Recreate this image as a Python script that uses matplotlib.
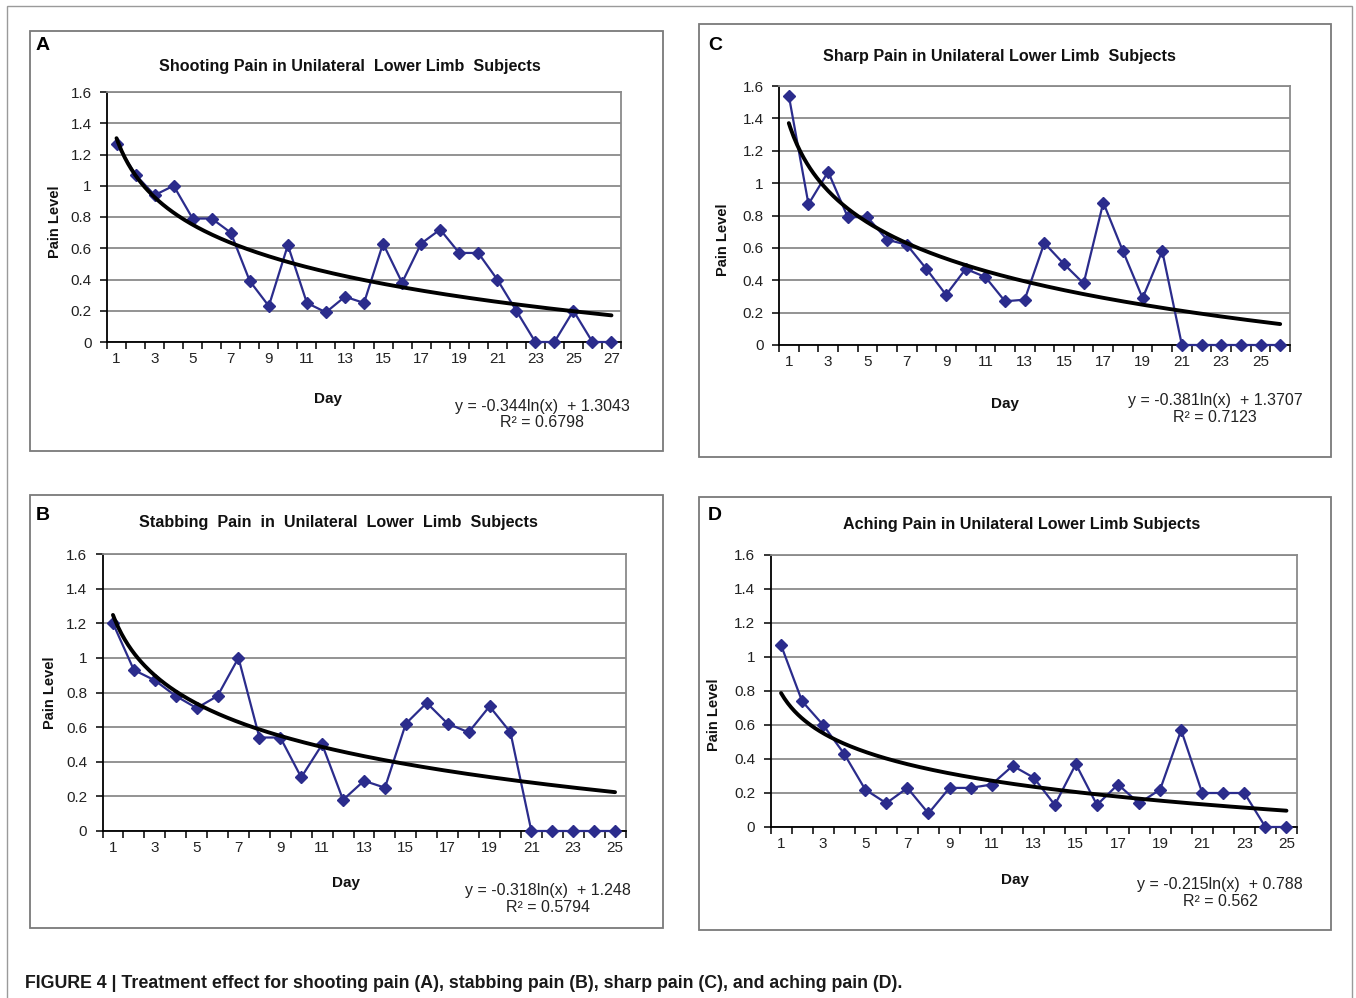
import numpy as np
import matplotlib
matplotlib.use("Agg")
import matplotlib.pyplot as plt
from matplotlib.patches import Rectangle

# ---- data ----
shooting = [1.27, 1.07, 0.94, 1.00, 0.79, 0.79, 0.70, 0.39, 0.23, 0.62, 0.25, 0.19, 0.29, 0.25,
            0.63, 0.38, 0.63, 0.72, 0.57, 0.57, 0.40, 0.20, 0.0, 0.0, 0.20, 0.0, 0.0]
sharp = [1.54, 0.87, 1.07, 0.79, 0.79, 0.65, 0.62, 0.47, 0.31, 0.47, 0.42, 0.27, 0.28, 0.63,
         0.50, 0.38, 0.88, 0.58, 0.29, 0.58, 0.0, 0.0, 0.0, 0.0, 0.0, 0.0]
stabbing = [1.20, 0.93, 0.87, 0.78, 0.71, 0.78, 1.00, 0.54, 0.54, 0.31, 0.50, 0.18, 0.29, 0.25,
            0.62, 0.74, 0.62, 0.57, 0.72, 0.57, 0.0, 0.0, 0.0, 0.0, 0.0]
aching = [1.07, 0.74, 0.60, 0.43, 0.22, 0.14, 0.23, 0.08, 0.23, 0.23, 0.25, 0.36, 0.29, 0.13,
          0.37, 0.13, 0.25, 0.14, 0.22, 0.57, 0.20, 0.20, 0.20, 0.0, 0.0]

trend_a = (-0.344, 1.3043, 0.6798)
trend_c = (-0.381, 1.3707, 0.7123)
trend_b = (-0.318, 1.248, 0.5794)
trend_d = (-0.215, 0.788, 0.562)

titles = {
    "A": "Shooting Pain in Unilateral  Lower Limb  Subjects",
    "C": "Sharp Pain in Unilateral Lower Limb  Subjects",
    "B": "Stabbing  Pain  in  Unilateral  Lower  Limb  Subjects",
    "D": "Aching Pain in Unilateral Lower Limb Subjects",
}
eq_texts = {
    "A": ("y = -0.344ln(x)  + 1.3043", "R\u00b2 = 0.6798"),
    "C": ("y = -0.381ln(x)  + 1.3707", "R\u00b2 = 0.7123"),
    "B": ("y = -0.318ln(x)  + 1.248", "R\u00b2 = 0.5794"),
    "D": ("y = -0.215ln(x)  + 0.788", "R\u00b2 = 0.562"),
}
yticks = [0, 0.2, 0.4, 0.6, 0.8, 1.0, 1.2, 1.4, 1.6]
ytick_labels = ["0", "0.2", "0.4", "0.6", "0.8", "1", "1.2", "1.4", "1.6"]

# ---- layout ----
W, H = 1356, 998
fig = plt.figure(figsize=(W / 100, H / 100), dpi=100)
plt.rcParams['font.family'] = ['Liberation Sans', 'DejaVu Sans']

def fx(x):
    return x / W

def fy(y):
    return 1 - y / H

LINE = "#2B2C8C"
GRID = "#8a8a8a"
BOX = "#7a7a7a"

panels = [
    # key, data, trend, box(px), plot area(px), title pos, letter pos, ylabel pos, day pos, eq pos
    ("A", shooting, trend_a, (30, 31, 663, 451), (107, 92, 621, 342), (350, 66), (36, 46), (55, 222), (328, 399), (542, 406)),
    ("C", sharp, trend_c, (699, 24, 1331, 457), (779, 86, 1290, 345), (999, 56), (708, 46), (723, 240), (1005, 404), (1215, 401)),
    ("B", stabbing, trend_b, (30, 495, 663, 928), (102.5, 554, 625.5, 831), (338, 523), (36, 516), (50, 693), (346, 883), (548, 891)),
    ("D", aching, trend_d, (699, 497, 1331, 930), (770.5, 555, 1297, 827), (1022, 524), (708, 516), (714, 715), (1015, 880), (1220, 885)),
]

# outer border
fig.patches.append(Rectangle((fx(7), fy(1005)), fx(1352 - 7), (1005 - 6) / H, transform=fig.transFigure,
                             fill=False, edgecolor="#9a9a9a", lw=1.0))

for key, data, trend, box, area, tpos, lpos, ylpos, dpos, epos in panels:
    x0, y0, x1, y1 = box
    fig.patches.append(Rectangle((fx(x0), fy(y1)), fx(x1 - x0), (y1 - y0) / H, transform=fig.transFigure,
                                 fill=False, edgecolor=BOX, lw=1.3))
    px0, py0, px1, py1 = area
    ax = fig.add_axes([fx(px0), fy(py1), fx(px1 - px0), (py1 - py0) / H])
    n = len(data)
    days = np.arange(1, n + 1)
    ax.set_xlim(0.5, n + 0.5)
    ax.set_ylim(0, 1.6)
    ax.set_yticks(yticks)
    ax.set_yticklabels(ytick_labels, fontsize=11, color="#222222")
    ax.yaxis.grid(True, color=GRID, lw=1.3)
    ax.set_axisbelow(True)
    # category boundaries as major ticks, labels as minor ticks
    ax.set_xticks(np.arange(0.5, n + 1.0, 1.0))
    ax.set_xticklabels([])
    odd = days[::2]
    ax.set_xticks(odd, minor=True)
    ax.set_xticklabels([str(d) for d in odd], minor=True, fontsize=11, color="#222222")
    ax.tick_params(axis="x", which="major", direction="out", length=5, width=1.1, color="black")
    ax.tick_params(axis="x", which="minor", length=0, pad=7)
    ax.tick_params(axis="y", direction="out", length=5, width=1.1, color="black", pad=6)
    for s in ("left", "bottom"):
        ax.spines[s].set_color("black")
        ax.spines[s].set_linewidth(1.3)
    for s in ("top", "right"):
        ax.spines[s].set_color(GRID)
        ax.spines[s].set_linewidth(1.3)
    ax.plot(days, data, color=LINE, lw=1.6, marker="D", ms=6.5, mfc=LINE, mec=LINE, zorder=3,
            clip_on=False)
    a, b, r2 = trend
    xt = np.linspace(1, n, 300)
    ax.plot(xt, a * np.log(xt) + b, color="black", lw=2.8, zorder=4, solid_capstyle="round")

    fig.text(fx(tpos[0]), fy(tpos[1]), titles[key], ha="center", va="center", fontsize=11.6,
             fontweight="bold", color="#111111")
    fig.text(fx(lpos[0]), fy(lpos[1]), key, ha="left", va="center", fontsize=14, fontweight="bold",
             color="black")
    fig.text(fx(ylpos[0]), fy(ylpos[1]), "Pain Level", ha="center", va="center", rotation=90,
             fontsize=10.5, fontweight="bold", color="#111111")
    fig.text(fx(dpos[0]), fy(dpos[1]), "Day", ha="center", va="center", fontsize=11,
             fontweight="bold", color="#111111")
    fig.text(fx(epos[0]), fy(epos[1]), eq_texts[key][0], ha="center", va="center", fontsize=11.5,
             color="#222222")
    fig.text(fx(epos[0]), fy(epos[1] + 17), eq_texts[key][1], ha="center", va="center", fontsize=11.5,
             color="#222222")

fig.text(fx(25), fy(983), "FIGURE 4 | Treatment effect for shooting pain (A), stabbing pain (B), sharp pain (C), and aching pain (D).",
         ha="left", va="center", fontsize=12.75, fontweight="bold", color="#1a1a1a",
         family=["Liberation Sans Narrow", "Liberation Sans", "DejaVu Sans"])

fig.savefig("out.png", dpi=100, facecolor="white")
